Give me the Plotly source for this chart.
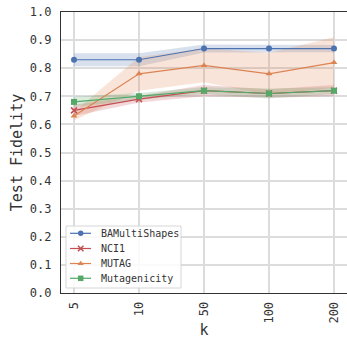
import plotly.graph_objects as go

k_labels = ["5", "10", "50", "100", "200"]

ba_mean = [0.83, 0.83, 0.87, 0.87, 0.87]
ba_std = [0.023, 0.023, 0.014, 0.013, 0.013]

nci_mean = [0.65, 0.69, 0.72, 0.71, 0.72]
nci_std = [0.02, 0.012, 0.02, 0.015, 0.02]

mutag_mean = [0.63, 0.78, 0.81, 0.78, 0.82]
mutag_std = [0.015, 0.06, 0.06, 0.075, 0.09]

mutagen_mean = [0.68, 0.70, 0.72, 0.71, 0.72]
mutagen_std = [0.018, 0.012, 0.012, 0.018, 0.012]

series_names = ["BAMultiShapes", "NCI1", "MUTAG", "Mutagenicity"]
series_means = [ba_mean, nci_mean, mutag_mean, mutagen_mean]
series_stds = [ba_std, nci_std, mutag_std, mutagen_std]
colors = ["#4C72B0", "#C44E52", "#DD8452", "#55A868"]
symbols = ["circle", "x-thin", "triangle-up", "square"]

W, H = 347, 339
PL, PT, PB = 61, 12, 293          # plot area edges in window pixels
ML, MR, MT, MB = PL, 0, PT, H - PB
PW, PH = W - ML - MR, H - MT - MB


def rgba(h, a):
    h = h.lstrip("#")
    r, g, b = int(h[0:2], 16), int(h[2:4], 16), int(h[4:6], 16)
    return f"rgba({r},{g},{b},{a})"


def marker_for(sym, c, size=6):
    if sym == "x-thin":
        return dict(symbol=sym, size=size, color=c, line=dict(width=1.5, color=c))
    return dict(symbol=sym, size=size, color=c)


fig = go.Figure()
for m, s, c in zip(series_means, series_stds, colors):
    lo = [a - b for a, b in zip(m, s)]
    hi = [a + b for a, b in zip(m, s)]
    fig.add_trace(go.Scatter(x=k_labels, y=lo, mode="lines", line=dict(width=0),
                             showlegend=False, hoverinfo="skip"))
    fig.add_trace(go.Scatter(x=k_labels, y=hi, mode="lines", line=dict(width=0),
                             fill="tonexty", fillcolor=rgba(c, 0.22),
                             showlegend=False, hoverinfo="skip"))
for name, m, c, sym in zip(series_names, series_means, colors, symbols):
    fig.add_trace(go.Scatter(x=k_labels, y=m, mode="lines+markers", name=name,
                             line=dict(color=c, width=1.2), marker=marker_for(sym, c),
                             showlegend=False))


# custom legend on an overlay axis spanning the plot area in [0, 1]
def px_x(px):
    return (px - PL) / PW


def px_y(py):
    return (PB - py) / PH


bx0, bx1, by0, by1 = px_x(66), px_x(181), px_y(288), px_y(226)
fig.add_trace(go.Scatter(x=[bx0, bx1, bx1, bx0, bx0], y=[by0, by0, by1, by1, by0],
                         xaxis="x2", yaxis="y2", mode="lines", fill="toself",
                         fillcolor="rgba(255,255,255,0.85)",
                         line=dict(color="#d6d6d6", width=1),
                         showlegend=False, hoverinfo="skip"))
annotations = []
leg_y = [233.3, 248.5, 263.5, 278.3]
for name, c, sym, yy in zip(series_names, colors, symbols, leg_y):
    fig.add_trace(go.Scatter(x=[px_x(70), px_x(91)], y=[px_y(yy), px_y(yy)],
                             xaxis="x2", yaxis="y2", mode="lines",
                             line=dict(color=c, width=1.2),
                             showlegend=False, hoverinfo="skip"))
    fig.add_trace(go.Scatter(x=[px_x(80.7)], y=[px_y(yy)], xaxis="x2", yaxis="y2",
                             mode="markers", marker=marker_for(sym, c, 5.5),
                             showlegend=False, hoverinfo="skip"))
    annotations.append(dict(xref="paper", yref="paper", x=px_x(99), y=px_y(yy),
                            text=name, showarrow=False, xanchor="left", yanchor="middle",
                            font=dict(size=10, color="#333333")))

font_family = "DejaVu Sans Mono"
fig.update_layout(
    width=W, height=H,
    margin=dict(l=ML, r=MR, t=MT, b=MB),
    paper_bgcolor="white", plot_bgcolor="white",
    font=dict(family=font_family, size=12, color="#333333"),
    showlegend=False,
    hovermode=False,
    annotations=annotations,
    xaxis=dict(type="category", range=[-0.2, 4.2], tickangle=-90,
               showgrid=True, gridcolor="#dcdcdc", gridwidth=1.5,
               showline=True, linecolor="#333333", linewidth=1.2, mirror=True,
               ticks="", ticklabelstandoff=3, automargin=False,
               tickfont=dict(size=12),
               title=dict(text="k", font=dict(size=15), standoff=3)),
    yaxis=dict(range=[0, 1.0], dtick=0.1, tickformat=".1f",
               showgrid=True, gridcolor="#dcdcdc", gridwidth=1.5,
               showline=True, linecolor="#333333", linewidth=1.2, mirror=True,
               ticks="", ticklabelstandoff=6, automargin=False,
               tickfont=dict(size=12), zeroline=False,
               title=dict(text="Test Fidelity", font=dict(size=15), standoff=3)),
    xaxis2=dict(overlaying="x", range=[0, 1], visible=False, fixedrange=True),
    yaxis2=dict(overlaying="y", range=[0, 1], visible=False, fixedrange=True),
)
fig.write_html("out.html", config={"displayModeBar": False},
               post_script="document.body.style.margin='0px';document.body.style.overflow='hidden';")
